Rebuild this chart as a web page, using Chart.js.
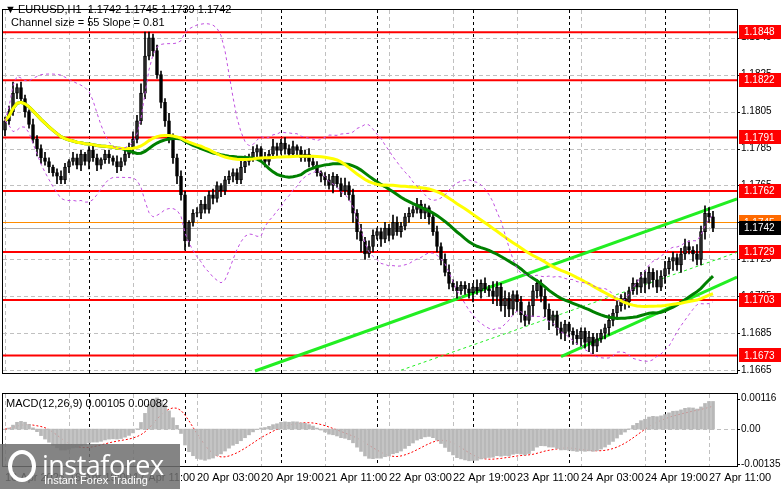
<!DOCTYPE html>
<html><head><meta charset="utf-8">
<script src="https://cdn.jsdelivr.net/npm/chart.js@4/dist/chart.umd.min.js"></script>
<style>
body{margin:0;background:#fff;width:781px;height:489px;overflow:hidden;position:relative;font-family:"Liberation Sans",sans-serif}
#c1{position:absolute;left:0;top:0}
#c2{position:absolute;left:0;top:384px}
#wm{position:absolute;left:0;top:444px;width:180px;height:45px;background:rgba(110,110,110,0.85);color:#fff}
#wm .a{position:absolute;left:42px;top:2px;font-size:27px;font-family:"Open Sans",sans-serif;letter-spacing:-0.5px}
#wm .b{position:absolute;left:44px;top:30px;font-size:11px}
#wm .g{position:absolute;left:8px;top:6px;width:28px;height:32px;border-radius:50%;border:4px solid #fff;box-sizing:border-box}
</style></head><body>
<canvas id="c1" width="781" height="383"></canvas>
<canvas id="c2" width="781" height="105"></canvas>
<div id="wm"><div class="g"></div><div class="a">instaforex</div><div class="b">Instant Forex Trading</div></div>
<script>
// closes in pips above 1.1600
const closes = [200,205,215,218,212, 205,198,190,185,180,178, 175,172,170,168,175,
178,180,176,182,178,184,180,176,179,182, 180,178,175,178,182,185,190, 200,215,235, 245,
238,225,210,200,190,180,170,160,135,145,150, 150,155,152,160,158,165,162,168,170,
172,168,175,178,180,183, 185,180,178,182,186,184,188,185,182,186, 184,180,182,178,176,172,170,
168,165,170,166,162,165,160, 150,140,135,128,132,138, 140,136,142,138,145,140,143,148,150,
152,155,150,153,148, 140,132,125,118,112, 110,108,111,109,107,110,108,112,109,108,
105,110,100,104,98,106,102, 95,92,100,108,112,105, 98,92,95,88,85,90,86,
84,82,86,80,83,78,82,85,88, 92,96,100,104,102,108, 112,110,115,112,118,114,110,116,120,
124,126,122,128,132,130,128, 125,140,150,148,142];
const upWick = [2,3,6,2,3,2,1,3,2,2,3,2,1,2,3,2,1,3,2,2,1,2,3,2,1,2,2,1,3,2,2,3,4,3,5,13,3,2,3,2,2,4,3,2,3,2,1,2,3,2,4,2,3,2,1,2,3,2,2,4,3,2,3,2,1,3,2,4,2,2,3,2,3,1,2,2,3,2,2,1,2,3,2,1,3,4,2,3,2,4,2,3,3,2,2,3,2,4,3,2,2,3,2,3,2,2,1,2,3,2,3,4,2,3,2,2,3,2,4,2,3,2,5,3,2,4,3,2,2,3,2,2,3,2,2,4,3,2,2,3,2,1,2,3,2,2,3,2,3,2,2,3,2,4,2,3,2,3,2,3,4,3,2,5,3,4,2,3,2,3,4,3,2,5,3,4,3,3];
const dnWick = [3,2,2,3,2,3,2,2,4,3,2,3,2,4,2,2,3,2,2,3,2,4,2,3,2,2,3,2,3,2,2,2,3,2,2,3,2,3,2,3,3,2,3,4,3,5,3,2,2,3,2,2,3,2,3,2,2,3,2,2,3,2,2,3,2,3,2,2,3,2,3,2,2,3,2,2,3,2,2,3,3,2,4,2,3,2,3,5,4,6,3,2,3,2,4,2,3,2,2,3,2,3,2,2,3,3,4,2,3,3,2,3,2,4,2,3,3,5,2,4,2,3,4,5,3,6,4,3,5,4,3,2,6,4,3,4,5,3,4,3,4,3,5,3,4,3,5,4,3,2,3,4,3,2,3,4,3,2,4,3,5,3,4,3,2,4,3,5,3,4,3,2,4,3,3,4,3,2];
const levels = [1.1848,1.1822,1.1791,1.1762,1.1729,1.1703,1.1673];
const priceTicks = [1.1845,1.1825,1.1805,1.1785,1.1765,1.1745,1.1725,1.1705,1.1685,1.1665];
const macdTicks = [0.00116,0,-0.00135];
const timeLabels = ["16 Apr 2026","16 Apr 19:00","17 Apr 11:00","20 Apr 03:00","20 Apr 19:00","21 Apr 11:00","22 Apr 03:00","22 Apr 19:00","23 Apr 11:00","24 Apr 03:00","24 Apr 19:00","27 Apr 11:00"];
const labelStep = 16;
const daySeparators = [21,45,69,93,117,141,165];
const channelUpper = [[62.5,1.16646],[183,1.17578]];
const channelLower = [[139,1.16724],[183,1.17154]];
const channelMid = [[99,1.1665],[183,1.17288]];

const C = closes.map(v=>1.16+v/10000);
const O = C.map((c,i)=> i? C[i-1] : 1.1795);
const N = C.length;
const body=[],wick=[],colors=[];
for(let i=0;i<N;i++){
  const hi=Math.max(O[i],C[i])+(upWick[i]??2)/10000, lo=Math.min(O[i],C[i])-(dnWick[i]??2)/10000;
  wick.push({x:i,y:[lo,hi]});
  let a=O[i],b=C[i]; if(Math.abs(a-b)<0.00004){b=a+0.00004;}
  body.push({x:i,y:[a,b]});
  colors.push(C[i]>=O[i]?'#fff':'#000');
}
function sma(arr,p){return arr.map((_,i)=>{const s=arr.slice(Math.max(0,i-p+1),i+1);return s.reduce((a,b)=>a+b,0)/s.length;});}
const ma30=sma(C,30), ma50=sma(C,50), mid20=sma(C,20);
const sd=C.map((_,i)=>{const s=C.slice(Math.max(0,i-19),i+1);const m=mid20[i];return Math.sqrt(s.reduce((a,b)=>a+(b-m)*(b-m),0)/s.length);});
const bbU=C.map((_,i)=>mid20[i]+2*sd[i]), bbL=C.map((_,i)=>mid20[i]-2*sd[i]);
function ema(arr,p){const k=2/(p+1);let e=arr[0];return arr.map(v=>e=v*k+e*(1-k));}
const e12=ema(C,12),e26=ema(C,26);
const macd=C.map((_,i)=>e12[i]-e26[i]);
const sig=sma(macd,9);
const pts=a=>a.map((y,i)=>({x:i,y}));
const seg=a=>a.map(p=>({x:p[0],y:p[1]}));
const xScale={type:'linear',min:-0.5,max:183,display:false,offset:false,bounds:'ticks',grace:0};
const FONT='"Liberation Sans"';

const gridPlugin={id:'g',beforeDatasetsDraw(ch,args,opt){
  const {ctx,chartArea:a,scales}=ch; const xs=scales.x, ys=scales.y;
  ctx.save();ctx.lineWidth=1;
  ctx.setLineDash([4,3]);ctx.strokeStyle='#c0c0c0';
  timeLabels.forEach((_,k)=>{const x=Math.round(xs.getPixelForValue(k*labelStep))+0.5;ctx.beginPath();ctx.moveTo(x,a.top);ctx.lineTo(x,a.bottom);ctx.stroke();});
  (opt.h||[]).forEach(v=>{const y=Math.round(ys.getPixelForValue(v))+0.5;ctx.beginPath();ctx.moveTo(a.left,y);ctx.lineTo(a.right,y);ctx.stroke();});
  ctx.strokeStyle='#000';ctx.setLineDash([3,3]);
  daySeparators.forEach(i=>{const x=Math.round(xs.getPixelForValue(i))+0.5;ctx.beginPath();ctx.moveTo(x,a.top);ctx.lineTo(x,a.bottom);ctx.stroke();});
  ctx.setLineDash([]);
  if(opt.levels){
    ctx.strokeStyle='#ff0000';ctx.lineWidth=2;
    levels.forEach(v=>{const y=ys.getPixelForValue(v);ctx.beginPath();ctx.moveTo(a.left,y);ctx.lineTo(a.right,y);ctx.stroke();});
    ctx.lineWidth=1;ctx.strokeStyle='#ff8c00';let y=Math.round(ys.getPixelForValue(1.1745))+0.5;ctx.beginPath();ctx.moveTo(a.left,y);ctx.lineTo(a.right,y);ctx.stroke();
    ctx.strokeStyle='#b0b0b0';y=Math.round(ys.getPixelForValue(1.1742))+0.5;ctx.beginPath();ctx.moveTo(a.left,y);ctx.lineTo(a.right,y);ctx.stroke();
  }
  if(opt.zero){ctx.strokeStyle='#c0c0c0';ctx.setLineDash([4,3]);const y=Math.round(ys.getPixelForValue(0))+0.5;ctx.beginPath();ctx.moveTo(a.left,y);ctx.lineTo(a.right,y);ctx.stroke();}
  ctx.restore();
},afterDraw(ch,args,opt){
  const {ctx,chartArea:a,scales}=ch; const ys=scales.y;
  ctx.save();ctx.strokeStyle='#000';ctx.lineWidth=1;ctx.strokeRect(a.left-0.5,a.top-0.5,a.right-a.left+1,a.bottom-a.top+1);
  // small tick marks on right axis
  (opt.h||opt.t||[]).forEach(v=>{const y=Math.round(ys.getPixelForValue(v))+0.5;ctx.beginPath();ctx.moveTo(a.right,y);ctx.lineTo(a.right+3,y);ctx.stroke();});
  ctx.font='10px '+FONT;ctx.textBaseline='middle';
  if(opt.levels){
    const box=(v,bg,fg)=>{const y=ys.getPixelForValue(v);ctx.fillStyle=bg;ctx.fillRect(a.right+2,Math.round(y)-7,42,14);ctx.fillStyle=fg;ctx.fillText(v.toFixed(4),a.right+7,y+0.5);};
    levels.forEach(v=>box(v,'#ff0000','#fff'));
    box(1.1745,'#ff6a00','#fff');box(1.1742,'#000','#fff');
    ctx.font='11px '+FONT;
    ctx.fillStyle='#000';ctx.fillText('▼',5,10);ctx.fillText('EURUSD,H1  1.1742 1.1745 1.1739 1.1742',18,10);
    ctx.fillText('Channel size = 55 Slope = 0.81',11,23);
  }
  if(opt.macd){
    ctx.font='11px '+FONT;
    ctx.fillStyle='#000';ctx.fillText('MACD(12,26,9) 0.00105 0.00082',6,a.top+10);
    ctx.textBaseline='alphabetic';
    timeLabels.forEach((t,k)=>{const x=scales.x.getPixelForValue(k*labelStep);ctx.fillText(t,x,a.bottom+15);});
  }
  ctx.restore();
}};

const yFit=s=>{s.width=44;};
const yTicks=cb=>({color:'#000',font:{size:10,family:'Liberation Sans'},padding:4,callback:cb});
const yGrid={display:false,drawTicks:false,tickLength:0};
new Chart(document.getElementById('c1'),{
  data:{datasets:[
    {type:'line',data:pts(bbU),borderColor:'#c050e0',borderWidth:1,borderDash:[3,3],pointRadius:0},
    {type:'line',data:pts(bbL),borderColor:'#c050e0',borderWidth:1,borderDash:[3,3],pointRadius:0},
    {type:'line',data:pts(ma50),borderColor:'#ffff00',borderWidth:3,pointRadius:0},
    {type:'line',data:pts(ma30),borderColor:'#008000',borderWidth:3,pointRadius:0},
    {type:'bar',data:wick,backgroundColor:'#000',barThickness:1,grouped:false},
    {type:'bar',data:body,backgroundColor:colors,borderColor:'#000',borderWidth:1,borderSkipped:false,barThickness:3,grouped:false},
    {type:'line',data:seg(channelUpper),borderColor:'#22ee22',borderWidth:3,pointRadius:0},
    {type:'line',data:seg(channelLower),borderColor:'#22ee22',borderWidth:3,pointRadius:0},
    {type:'line',data:seg(channelMid),borderColor:'#22ee22',borderWidth:1,borderDash:[3,3],pointRadius:0}
  ]},
  options:{responsive:false,animation:false,devicePixelRatio:1,layout:{padding:{left:3,top:3,bottom:3}},
    plugins:{legend:{display:false},tooltip:{enabled:false},g:{h:priceTicks,levels:true}},
    scales:{x:xScale,y:{position:'right',min:1.16635,max:1.1860,afterFit:yFit,
      afterBuildTicks:s=>{s.ticks=priceTicks.map(v=>({value:v}));},
      grid:yGrid,border:{display:false},
      ticks:yTicks(v=>Number(v).toFixed(4))}}},
  plugins:[gridPlugin]
});
new Chart(document.getElementById('c2'),{
  data:{datasets:[
    {type:'bar',data:pts(macd),backgroundColor:'#b8b8b8',barThickness:3,grouped:false},
    {type:'line',data:pts(sig),borderColor:'#ff0000',borderWidth:1,borderDash:[2,2],pointRadius:0}
  ]},
  options:{responsive:false,animation:false,devicePixelRatio:1,layout:{padding:{left:3,top:6,bottom:23}},
    plugins:{legend:{display:false},tooltip:{enabled:false},g:{macd:true,zero:true,t:macdTicks}},
    scales:{x:xScale,y:{position:'right',min:-0.00141,max:0.00134,afterFit:yFit,
      afterBuildTicks:s=>{s.ticks=macdTicks.map(v=>({value:v}));},
      grid:yGrid,border:{display:false},
      ticks:yTicks(v=>v===0?'0.00':Number(v).toFixed(5))}}},
  plugins:[gridPlugin]
});
</script></body></html>
